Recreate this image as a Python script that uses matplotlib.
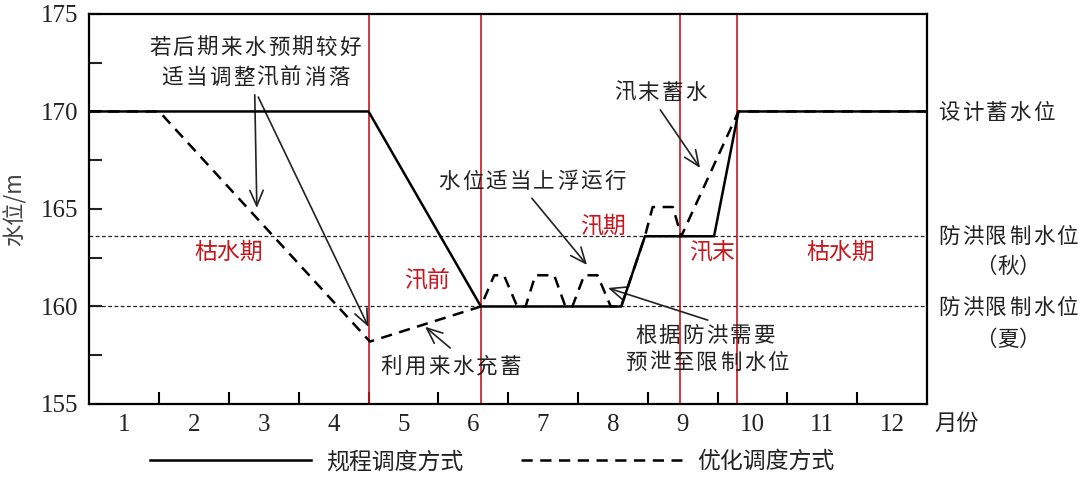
import matplotlib
matplotlib.use("Agg")
import matplotlib.pyplot as plt

plt.rcParams['font.family'] = ['Noto Sans CJK SC', 'DejaVu Sans']

# data
month_labels = [str(m) for m in range(1, 13)]
month_ticks = [m - 0.5 for m in range(1, 13)]

# 规程调度方式
rule_x = [0, 4.0, 5.61, 7.62, 7.96, 8.95, 9.3, 12]
rule_y = [170, 170, 160, 160, 163.6, 163.6, 170, 170]

# 优化调度方式
opt_x = [0, 1.0, 4.02, 5.61, 5.80, 5.94, 6.13, 6.25, 6.39, 6.66, 6.82, 6.92,
         7.09, 7.28, 7.47, 7.62, 7.96, 8.07, 8.36, 8.48, 9.3, 12]
opt_y = [170, 170, 158.2, 160, 161.6, 161.6, 160, 160, 161.6, 161.6, 160, 160,
         161.6, 161.6, 160, 160, 163.6, 165.1, 165.1, 163.6, 170, 170]

limit_levels = [163.6, 160]
period_bounds = [4.0, 5.61, 8.46, 9.28]

RED = '#c8161d'
INK = '#222222'


def spaced(ax, x, y, s, pitch, size, ha='center', **kw):
    # draw a string char by char with a fixed pitch (points)
    n = len(s)
    start = -(n - 1) / 2 * pitch if ha == 'center' else pitch / 2
    for i, ch in enumerate(s):
        ax.annotate(ch, (x, y), xytext=(start + i * pitch, 0), textcoords='offset points',
                    ha='center', va='center', fontsize=size, color=INK,
                    annotation_clip=False, **kw)


def arrow(ax, start, end):
    ax.annotate('', xy=end, xytext=start,
                arrowprops=dict(arrowstyle='->,head_length=0.7,head_width=0.3',
                                lw=1.2, color=INK, mutation_scale=16, shrinkA=0, shrinkB=0))


fig = plt.figure(figsize=(10.8, 4.83), dpi=100)
ax = fig.add_axes([0.0827, 0.1636, 0.7756, 0.8075])

for lv in limit_levels:
    ax.axhline(lv, color=INK, lw=0.9, ls=(0, (3, 2)), zorder=1)
for b in period_bounds:
    ax.axvline(b, color=RED, lw=1.2, zorder=2)

ax.plot(rule_x, rule_y, color='black', lw=1.8, label='规程调度方式', zorder=4)
ax.plot(opt_x, opt_y, color='black', lw=1.8, ls=(0, (4.5, 3)), label='优化调度方式', zorder=3)

ax.set_xlim(0, 12)
ax.set_ylim(155, 175)
ax.set_xticks(month_ticks)
ax.set_xticklabels(month_labels, family='Liberation Serif', fontsize=18)
ax.set_xticks(range(1, 12), minor=True)
ax.tick_params(axis='x', which='major', length=0, pad=7, colors=INK)
ax.tick_params(axis='x', which='minor', direction='in', length=9, width=1.5)
ax.set_yticks([155, 160, 165, 170, 175])
ax.set_yticks([157.5, 162.5, 167.5, 172.5], minor=True)
ax.set_yticklabels(['155', '160', '165', '170', '175'], family='Liberation Serif', fontsize=18)
ax.tick_params(axis='y', which='both', direction='in', length=9, width=1.5, pad=8, colors=INK)
for sp in ax.spines.values():
    sp.set_linewidth(1.6)

ax.set_ylabel('水位/m', fontsize=16, color='#444444', labelpad=10)
ax.text(12.43, 154.03, '月份', fontsize=16, color=INK, ha='center', va='center', clip_on=False)

# annotations
FS = 15.5
spaced(ax, 2.37, 173.26, '若后期来水预期较好', 17.1, FS)
spaced(ax, 2.38, 171.72, '适当调整汛前消落', 17.1, FS)
arrow(ax, (2.37, 170.85), (2.40, 165.05))
arrow(ax, (2.42, 170.74), (4.0, 158.95))

spaced(ax, 6.34, 166.38, '水位适当上浮运行', 17.1, FS)
arrow(ax, (6.34, 165.55), (7.13, 162.13))

spaced(ax, 5.18, 156.9, '利用来水充蓄', 17.1, FS)
arrow(ax, (5.17, 157.87), (4.81, 158.96))

spaced(ax, 8.82, 158.5, '根据防洪需要', 17.1, FS)
spaced(ax, 8.85, 157.1, '预泄至限制水位', 17.1, FS)
arrow(ax, (8.86, 159.3), (7.43, 160.95))

spaced(ax, 8.18, 170.95, '汛末蓄水', 17.1, FS)
arrow(ax, (8.18, 170.08), (8.75, 167.1))

# period labels
for x, y, s in [(1.99, 162.79, '枯水期'), (4.84, 161.36, '汛前'), (7.36, 164.13, '汛期'),
                (8.92, 162.79, '汛末'), (10.77, 162.79, '枯水期')]:
    ax.text(x, y, s, color=RED, fontsize=16.5, ha='center', va='center', zorder=5)

# right side level names
spaced(ax, 12.14, 169.92, '设计蓄水位', 17.1, FS, ha='left')
spaced(ax, 12.14, 163.56, '防洪限制水位', 17.1, FS, ha='left')
spaced(ax, 13.16, 162.03, '（秋）', 16, FS)
spaced(ax, 12.14, 159.92, '防洪限制水位', 17.1, FS, ha='left')
spaced(ax, 13.16, 158.28, '（夏）', 16, FS)

leg = fig.legend(loc='center', bbox_to_anchor=(0.456, 0.044), ncol=2, frameon=False,
                 fontsize=16.5, handlelength=7.0, handletextpad=0.7, columnspacing=2.5,
                 borderpad=0)
for t in leg.get_texts():
    t.set_color(INK)

fig.savefig('out.png', dpi=100)
